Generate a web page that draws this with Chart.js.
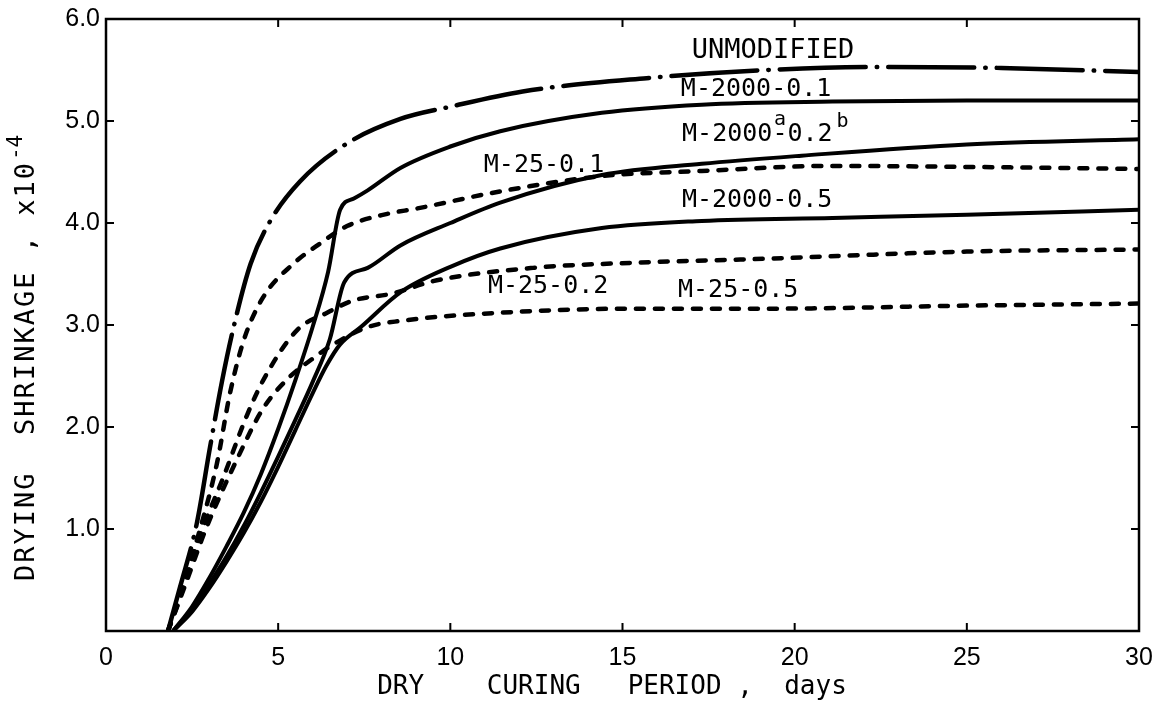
<!DOCTYPE html>
<html><head><meta charset="utf-8">
<script src="https://cdn.jsdelivr.net/npm/chart.js@4/dist/chart.umd.min.js"></script>
<style>html,body{margin:0;padding:0;background:#fff}#wrap{width:1153px;height:705px}</style>
</head><body><div id="wrap"><canvas id="c" width="1153" height="705"></canvas></div>
<script>
// ---- data ----
const xTicks = [0, 5, 10, 15, 20, 25, 30];
const yTicks = [1, 2, 3, 4, 5, 6];

const unmodX = [1.8, 2.15, 2.64, 3.02, 3.37, 3.7, 4.2, 4.77, 5.64, 7.0, 8.55, 10.0, 12.1, 15.7, 19.2, 22.6, 26.0, 30.0];
const unmodY = [0.0, 0.43, 1.06, 1.80, 2.45, 2.97, 3.60, 4.02, 4.41, 4.78, 5.02, 5.14, 5.29, 5.42, 5.50, 5.53, 5.52, 5.48];

const m2000_01X = [1.95, 2.5, 3.0, 3.5, 4.0, 4.5, 5.0, 5.5, 6.0, 6.45, 6.8, 7.2, 7.6, 8.55, 10.0, 11.45, 14.4, 17.3, 21.1, 25.0, 30.0];
const m2000_01Y = [0.0, 0.24, 0.52, 0.83, 1.16, 1.54, 1.98, 2.46, 2.98, 3.52, 4.13, 4.24, 4.32, 4.54, 4.75, 4.90, 5.08, 5.16, 5.19, 5.20, 5.20];

const m2000_02X = [1.95, 2.5, 3.0, 3.5, 4.0, 4.5, 5.0, 5.5, 6.0, 6.5, 6.92, 7.6, 8.55, 10.0, 11.45, 14.4, 17.3, 20.2, 25.0, 30.0];
const m2000_02Y = [0.0, 0.21, 0.46, 0.73, 1.03, 1.36, 1.71, 2.07, 2.44, 2.86, 3.42, 3.56, 3.78, 4.00, 4.20, 4.47, 4.58, 4.66, 4.77, 4.82];

const m2000_05X = [1.95, 2.5, 3.0, 3.5, 4.0, 4.5, 5.0, 5.5, 6.0, 6.4, 6.8, 7.4, 8.55, 10.0, 11.45, 14.4, 17.3, 21.1, 25.0, 30.0];
const m2000_05Y = [0.0, 0.19, 0.42, 0.68, 0.96, 1.27, 1.61, 1.97, 2.33, 2.60, 2.81, 2.98, 3.32, 3.57, 3.75, 3.95, 4.02, 4.05, 4.08, 4.13];

const m25_01X = [1.8, 2.2, 2.53, 3.22, 3.6, 4.0, 4.56, 5.44, 6.22, 7.0, 8.17, 9.0, 11.45, 14.4, 17.3, 21.1, 25.0, 30.0];
const m25_01Y = [0.0, 0.38, 0.76, 1.64, 2.33, 2.85, 3.27, 3.60, 3.80, 3.97, 4.09, 4.14, 4.31, 4.46, 4.51, 4.56, 4.55, 4.53];

const m25_02X = [1.8, 2.3, 2.8, 3.4, 4.1, 4.6, 5.55, 6.42, 7.18, 8.34, 9.5, 12.4, 15.3, 19.2, 25.0, 30.0];
const m25_02Y = [0.0, 0.50, 1.00, 1.50, 2.12, 2.48, 2.95, 3.12, 3.24, 3.31, 3.43, 3.56, 3.61, 3.65, 3.72, 3.74];

const m25_05X = [1.8, 2.3, 2.9, 3.8, 4.56, 5.3, 6.0, 6.6, 7.6, 8.55, 11.45, 15.3, 19.2, 25.0, 30.0];
const m25_05Y = [0.0, 0.45, 1.00, 1.68, 2.18, 2.48, 2.67, 2.81, 2.98, 3.04, 3.12, 3.16, 3.16, 3.19, 3.21];

// curve labels, anchored in data units
const labelText = ['UNMODIFIED', 'M-2000-0.1', 'M-25-0.1', 'M-2000-0.5', 'M-25-0.2', 'M-25-0.5'];
const labelX    = [19.37, 18.88, 12.72, 18.91, 12.84, 18.36];
const labelY    = [5.69, 5.31, 4.56, 4.22, 3.38, 3.34];
const special = { main1: 'M-2000', supA: 'a', main2: '-0.2', supB: 'b', x: 16.73, y: 4.87 };

// ---- helpers ----
const pts = (xs, ys) => xs.map((x, i) => ({ x, y: ys[i] }));
const SOLID = [];
const DASHED = [8, 11];
const DASHDOT = [86, 11, 0.5, 11];
function ds(label, xs, ys, dash, w) {
  return {
    label, data: pts(xs, ys), showLine: true, pointRadius: 0,
    borderColor: '#000', borderWidth: w, borderDash: dash,
    borderCapStyle: dash.length ? 'round' : 'butt', borderJoinStyle: 'round',
    cubicInterpolationMode: 'monotone', fill: false
  };
}

const PADL = 8;
const framePlugin = {
  id: 'frame',
  afterDatasetsDraw(chart) {
    const { ctx, chartArea: a, scales: { x, y } } = chart;
    ctx.save();
    ctx.strokeStyle = '#000';
    ctx.lineWidth = 2.5;
    ctx.strokeRect(a.left, a.top, a.right - a.left, a.bottom - a.top);
    ctx.lineWidth = 2;
    const L = 8;
    ctx.beginPath();
    xTicks.forEach(v => {
      if (v === x.min || v === x.max) return;
      const px = x.getPixelForValue(v);
      ctx.moveTo(px, a.bottom); ctx.lineTo(px, a.bottom - L);
      ctx.moveTo(px, a.top); ctx.lineTo(px, a.top + L);
    });
    yTicks.forEach(v => {
      if (v === y.min || v === y.max) return;
      const py = y.getPixelForValue(v);
      ctx.moveTo(a.left, py); ctx.lineTo(a.left + L, py);
      ctx.moveTo(a.right, py); ctx.lineTo(a.right - L, py);
    });
    ctx.stroke();

    // curve labels
    ctx.fillStyle = '#000';
    ctx.textBaseline = 'middle';
    ctx.textAlign = 'center';
    labelText.forEach((t, i) => {
      ctx.font = (i === 0 ? '27px' : '25px') + ' "DejaVu Sans Mono"';
      ctx.fillText(t, x.getPixelForValue(labelX[i]), y.getPixelForValue(labelY[i]));
    });
    // M-2000(a)-0.2(b)
    ctx.font = '25px "DejaVu Sans Mono"';
    ctx.textAlign = 'left';
    let sx = x.getPixelForValue(special.x), sy = y.getPixelForValue(special.y);
    ctx.fillText(special.main1, sx, sy);
    const w1 = ctx.measureText(special.main1).width;
    ctx.fillText(special.main2, sx + w1, sy);
    const wh = ctx.measureText('-').width;
    const w2 = ctx.measureText(special.main2).width;
    ctx.font = '20px "DejaVu Sans Mono"';
    ctx.textAlign = 'center';
    ctx.fillText(special.supA, sx + w1 + wh / 2, sy - 14);
    ctx.textAlign = 'left';
    ctx.fillText(special.supB, sx + w1 + w2 + 4, sy - 12);

    // axis titles
    ctx.font = '26px "DejaVu Sans Mono"';
    ctx.textAlign = 'center';
    ctx.fillText('DRY    CURING   PERIOD ,  days', 612, 687);
    ctx.save();
    ctx.translate(27, 357);
    ctx.rotate(-Math.PI / 2);
    ctx.font = '27px "DejaVu Sans Mono"';
    ctx.letterSpacing = '2px';
    ctx.textAlign = 'center';
    const t1 = 'DRYING  SHRINKAGE , x10';
    const tw = ctx.measureText(t1).width;
    ctx.fillText(t1, -14, 0);
    ctx.font = '21px "DejaVu Sans Mono"';
    ctx.letterSpacing = '0px';
    ctx.textAlign = 'left';
    ctx.fillText('-4', -14 + tw / 2 + 1, -10);
    ctx.restore();
    ctx.restore();
  }
};

new Chart(document.getElementById('c'), {
  type: 'scatter',
  data: {
    datasets: [
      ds('UNMODIFIED', unmodX, unmodY, DASHDOT, 4.5),
      ds('M-2000-0.1', m2000_01X, m2000_01Y, SOLID, 4),
      ds('M-2000-0.2', m2000_02X, m2000_02Y, SOLID, 4),
      ds('M-2000-0.5', m2000_05X, m2000_05Y, SOLID, 4),
      ds('M-25-0.1', m25_01X, m25_01Y, DASHED, 4.5),
      ds('M-25-0.2', m25_02X, m25_02Y, DASHED, 4.5),
      ds('M-25-0.5', m25_05X, m25_05Y, DASHED, 4.5)
    ]
  },
  options: {
    responsive: false, animation: false,
    layout: { padding: { left: PADL, top: 19, right: 14, bottom: 0 } },
    plugins: { legend: { display: false }, tooltip: { enabled: false } },
    scales: {
      x: {
        type: 'linear', min: 0, max: 30,
        afterBuildTicks: s => { s.ticks = xTicks.map(v => ({ value: v })); },
        afterFit: s => { s.height = 74; s.paddingRight = 0; s.paddingLeft = 0; },
        grid: { display: false, drawTicks: false }, border: { display: false },
        ticks: { color: '#000', font: { family: 'Liberation Sans', size: 25 }, padding: 12, maxRotation: 0,
          callback: v => String(v) }
      },
      y: {
        type: 'linear', min: 0, max: 6,
        afterBuildTicks: s => { s.ticks = [0].concat(yTicks).map(v => ({ value: v })); },
        afterFit: s => { s.width = 106 - PADL; s.paddingTop = 0; s.paddingBottom = 0; },
        grid: { display: false, drawTicks: false }, border: { display: false },
        ticks: { color: '#000', font: { family: 'Liberation Sans', size: 25 }, padding: 6,
          callback: v => v === 0 ? '' : Number(v).toFixed(1) }
      }
    }
  },
  plugins: [framePlugin]
});
</script></body></html>
